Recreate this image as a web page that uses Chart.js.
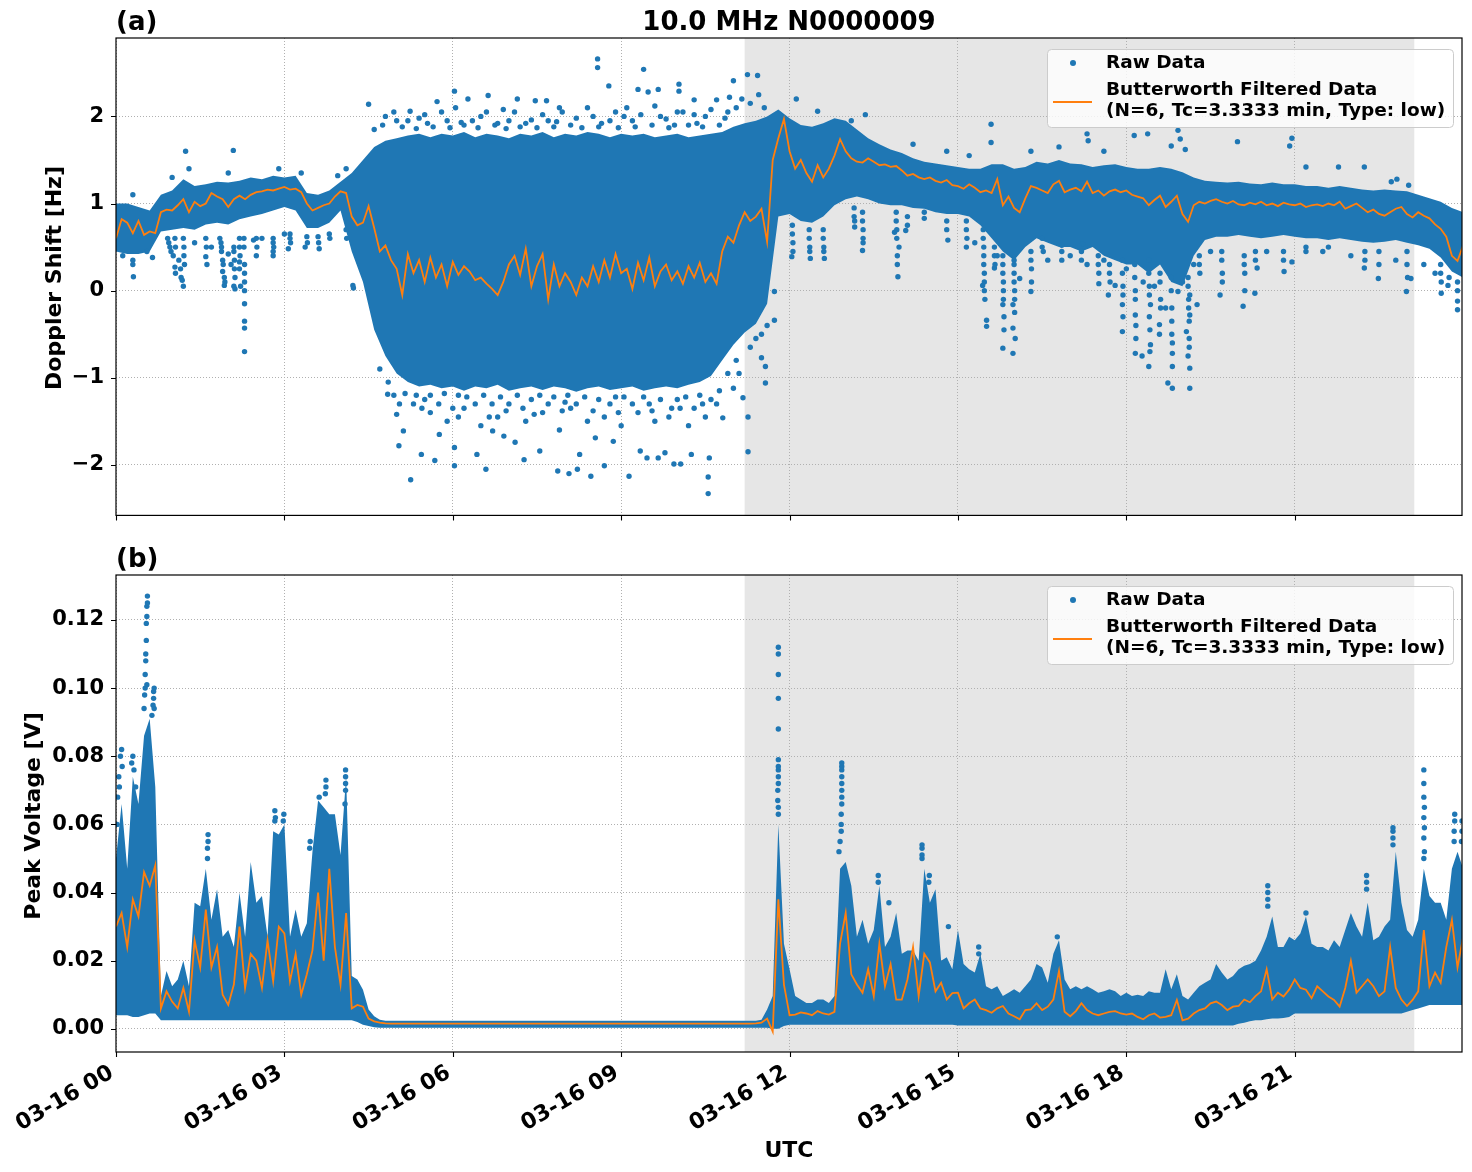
<!DOCTYPE html>
<html>
<head>
<meta charset="utf-8">
<script src="https://cdn.jsdelivr.net/npm/chart.js@4.4.0/dist/chart.umd.min.js"></script>
<style>
html,body{margin:0;padding:0;background:#fff;}
#wrap{position:relative;width:1472px;height:1172px;overflow:hidden;}
#ca{position:absolute;left:0;top:0;}
#cb{position:absolute;left:0;top:540px;}
</style>
</head>
<body>
<div id="wrap">
<canvas id="ca" width="1472" height="540"></canvas>
<canvas id="cb" width="1472" height="632"></canvas>
</div>
<script>
// ---------------- DATA ----------------
const X_TICK_HOURS = [0, 3, 6, 9, 12, 15, 18, 21];
const SHADE_HOURS = [11.2, 23.13];
const FILTER_STEP_H = 0.1;
const TOP_BAND_STEP_H = 0.2;
const BOT_BAND_STEP_H = 0.1;

// (a) Doppler shift [Hz] – Butterworth filtered, every 0.1 h from 00:00
const dopplerFiltered = [
 0.60,0.82,0.78,0.66,0.80,0.64,0.68,0.66,0.90,0.93,
 0.92,0.98,1.05,0.90,1.02,0.97,1.00,1.12,1.08,1.05,
 0.96,1.05,1.09,1.05,1.10,1.13,1.14,1.16,1.15,1.17,
 1.19,1.16,1.17,1.13,1.00,0.92,0.95,0.98,1.00,1.08,
 1.14,1.12,0.85,0.75,0.78,0.97,0.72,0.45,0.52,0.35,
 0.25,-0.05,0.42,0.20,0.35,0.10,0.38,0.15,0.30,0.05,
 0.33,0.18,0.28,0.22,0.12,0.15,0.08,0.02,-0.05,0.10,
 0.30,0.40,0.18,0.48,0.05,0.28,0.42,-0.10,0.30,0.05,
 0.20,0.10,-0.05,0.15,0.05,0.28,0.10,0.35,0.15,0.42,
 0.20,0.25,0.02,0.32,0.12,0.38,0.05,0.22,0.30,0.12,
 0.22,0.08,0.28,0.15,0.32,0.10,0.20,0.08,0.45,0.62,
 0.55,0.75,0.90,0.80,0.85,0.94,0.56,1.50,1.75,1.97,
 1.60,1.40,1.50,1.35,1.25,1.44,1.30,1.40,1.55,1.74,
 1.60,1.52,1.48,1.47,1.52,1.48,1.44,1.45,1.42,1.43,
 1.38,1.32,1.34,1.30,1.28,1.30,1.26,1.24,1.27,1.21,
 1.20,1.17,1.22,1.18,1.13,1.15,1.12,1.28,0.98,1.08,
 0.95,0.90,1.06,1.20,1.18,1.15,1.12,1.22,1.26,1.13,
 1.16,1.18,1.14,1.25,1.12,1.15,1.09,1.14,1.16,1.13,
 1.15,1.10,1.08,1.06,0.98,1.04,1.09,0.96,1.02,1.09,
 0.88,0.79,0.98,1.02,1.00,1.03,1.05,1.02,1.00,1.03,
 0.99,0.98,1.01,0.99,1.02,0.98,1.00,0.97,1.01,0.99,
 0.98,1.00,0.96,0.98,0.99,0.97,1.00,0.98,1.02,0.94,
 0.97,1.00,0.95,0.90,0.93,0.88,0.86,0.90,0.94,0.96,
 0.88,0.84,0.90,0.86,0.83,0.76,0.71,0.62,0.40,0.34,
 0.52
];

// (a) raw data: lower / upper edge of the dense cloud, every 0.2 h
const dopplerRawLow = [
 0.45,0.42,0.42,0.45,0.68,0.70,0.72,0.70,0.76,0.78,
 0.76,0.82,0.85,0.88,0.92,0.96,0.92,0.72,0.72,0.78,
 0.92,0.45,0.10,-0.45,-0.75,-0.95,-1.05,-1.10,-1.08,-1.12,
 -1.10,-1.15,-1.10,-1.12,-1.08,-1.15,-1.12,-1.10,-1.14,-1.10,
 -1.12,-1.16,-1.12,-1.10,-1.14,-1.12,-1.10,-1.15,-1.12,-1.10,
 -1.12,-1.08,-1.05,-0.98,-0.80,-0.62,-0.48,-0.38,-0.15,0.85,
 0.88,0.80,0.78,0.85,0.98,1.05,1.08,1.05,1.00,0.98,
 0.98,0.95,0.94,0.90,0.88,0.88,0.85,0.75,0.60,0.45,
 0.35,0.50,0.60,0.55,0.50,0.50,0.45,0.50,0.40,0.35,
 0.30,0.30,0.20,0.30,0.10,0.05,0.40,0.58,0.62,0.62,
 0.64,0.62,0.60,0.62,0.64,0.62,0.60,0.60,0.58,0.60,
 0.58,0.56,0.55,0.56,0.58,0.55,0.52,0.48,0.38,0.22,
 0.15
];
const dopplerRawHigh = [
 1.00,1.00,0.96,0.92,1.10,1.15,1.28,1.20,1.22,1.25,
 1.24,1.26,1.30,1.28,1.32,1.30,1.32,1.12,1.10,1.15,
 1.25,1.35,1.50,1.65,1.72,1.75,1.78,1.80,1.76,1.80,
 1.78,1.82,1.76,1.80,1.78,1.75,1.80,1.78,1.82,1.76,
 1.80,1.78,1.82,1.80,1.76,1.80,1.78,1.80,1.76,1.78,
 1.80,1.76,1.78,1.80,1.82,1.88,1.92,1.95,2.00,2.08,
 1.98,1.90,1.88,1.92,1.98,1.95,1.85,1.75,1.68,1.62,
 1.58,1.52,1.48,1.46,1.44,1.42,1.40,1.40,1.45,1.45,
 1.40,1.42,1.48,1.46,1.50,1.46,1.45,1.42,1.44,1.45,
 1.42,1.40,1.40,1.42,1.40,1.36,1.30,1.26,1.25,1.24,
 1.25,1.23,1.22,1.24,1.22,1.22,1.20,1.20,1.18,1.20,
 1.18,1.16,1.15,1.16,1.15,1.14,1.10,1.06,1.02,0.95,
 0.90
];

// (a) raw data: isolated points and streaks outside the dense cloud [hour, Hz]
const dopplerRawSparse = [
 [0.31,0.16],[1.02,0.40],[1.05,0.27],[1.06,0.20],[1.12,0.35],[1.15,0.25],[1.18,0.12],[1.20,0.05],[1.16,0.15],
 [1.24,1.60],[1.60,0.39],[1.62,0.30],[1.85,0.60],[1.88,0.45],[1.90,0.22],[1.93,0.06],[2.00,0.42],[2.05,0.30],
 [2.10,0.50],[2.10,0.05],[2.12,0.02],[2.09,1.61],[2.20,0.33],[2.20,0.25],[2.22,0.05],[2.29,-0.35],[2.29,-0.43],
 [2.29,-0.70],[2.50,0.40],[2.80,0.45],[2.80,0.40],[3.07,0.48],[3.37,0.50],[3.62,0.48],[4.22,0.06],[4.23,0.03],
 [0.55,0.45],[0.12,0.40],[0.65,0.38],[1.40,0.55],[2.60,0.60],[3.00,0.65],[2.45,0.58],[1.70,0.50],
 [0.30,0.35],[0.30,0.30],[0.92,0.60],[0.94,0.55],[0.96,0.50],[0.98,0.45],[1.05,0.60],[1.06,0.50],
 [1.20,0.60],[1.21,0.50],[1.21,0.40],[1.22,0.30],[1.60,0.60],[1.61,0.50],[1.87,0.55],[1.88,0.50],
 [1.90,0.35],[1.91,0.30],[1.93,0.15],[1.94,0.10],[2.10,0.45],[2.11,0.35],[2.11,0.25],[2.12,0.15],
 [2.20,0.60],[2.20,0.50],[2.21,0.40],[2.28,0.60],[2.28,0.50],[2.29,0.30],[2.29,0.20],[2.29,0.10],
 [2.29,0.00],[2.29,-0.15],[2.50,0.60],[2.51,0.50],[2.80,0.60],[2.80,0.55],[2.81,0.50],[3.10,0.65],
 [3.10,0.60],[3.11,0.55],[3.40,0.62],[3.41,0.55],[3.60,0.62],[3.61,0.55],[3.80,0.65],[3.81,0.60],
 [4.10,0.70],[4.11,0.60],[0.30,1.10],[1.00,1.30],[1.30,1.40],[2.00,1.35],[2.90,1.40],[3.30,1.35],
 [3.95,1.32],[4.10,1.40],
 [4.50,2.14],[4.80,2.00],[5.24,2.06],[5.72,2.17],[6.03,2.29],[6.27,2.20],[6.63,2.24],[7.15,2.20],[7.47,2.18],
 [7.67,2.18],[7.90,2.10],[8.58,2.66],[8.58,2.56],[8.78,2.35],[9.30,2.31],[9.40,2.54],[9.48,2.28],[9.66,2.31],
 [9.60,2.12],[10.03,2.37],[10.03,2.29],[10.30,2.19],[10.70,2.19],[10.93,2.22],[11.00,2.41],[11.25,2.48],[11.43,2.47],
 [5.00,1.95],[5.40,1.98],[5.90,1.95],[6.50,2.00],[7.00,1.95],[7.60,2.02],[8.20,1.98],[8.90,2.05],[9.80,1.97],
 [10.50,2.00],[6.90,2.08],[8.40,2.10],[9.05,2.00],[10.10,2.05],[5.55,1.92],[6.15,1.93],[6.75,1.90],[7.30,1.92],
 [7.85,1.94],[8.65,1.92],[9.20,1.95],[9.95,1.90],[10.35,1.92],[10.85,1.98],
 [4.60,1.85],[4.75,1.90],[4.95,2.05],[5.10,1.88],[5.20,1.95],[5.35,1.86],[5.50,2.02],[5.65,1.88],[5.80,2.05],
 [5.95,1.87],[6.05,2.10],[6.20,1.90],[6.35,1.95],[6.45,1.87],[6.60,2.05],[6.80,1.92],[6.95,1.86],[7.10,2.05],
 [7.20,1.88],[7.40,1.96],[7.50,1.87],[7.70,1.95],[7.80,1.88],[7.95,2.05],[8.10,1.90],[8.30,1.87],[8.50,2.00],
 [8.60,1.88],[8.80,1.95],[8.95,1.87],[9.10,2.10],[9.25,1.88],[9.35,2.02],[9.55,1.90],[9.70,2.00],[9.85,1.87],
 [10.00,2.05],[10.20,1.90],[10.30,2.02],[10.45,1.88],[10.60,2.08],[10.75,1.90],[10.90,2.05],[11.05,2.10],
 [11.15,2.20],[11.30,2.15],[11.45,2.25],[11.55,2.10],
 [4.84,-1.19],[5.00,-1.42],[5.04,-1.78],[5.12,-1.61],[5.25,-2.17],[5.44,-1.88],[5.68,-1.95],[5.76,-1.65],
 [6.03,-2.01],[6.03,-1.80],[6.43,-1.88],[6.59,-2.05],[6.71,-1.61],[6.91,-1.67],[7.11,-1.74],[7.27,-1.94],
 [7.55,-1.84],[7.87,-2.07],[8.07,-2.10],[8.22,-2.05],[8.26,-1.88],[8.46,-2.13],[8.70,-2.01],[8.54,-1.69],
 [8.86,-1.73],[9.14,-2.13],[9.34,-1.84],[9.46,-1.92],[9.66,-1.92],[9.78,-1.86],[9.94,-1.99],[10.06,-1.99],
 [10.25,-1.88],[10.55,-2.14],[10.55,-2.33],[10.57,-1.92],[10.81,-1.46],[11.00,-1.12],[11.17,-1.23],[11.26,-1.45],
 [11.26,-1.85],[11.57,-0.87],[11.57,-1.06],[11.50,-0.77],[11.73,-0.01],[11.73,-0.34],
 [5.30,-1.30],[5.60,-1.40],[5.90,-1.50],[6.20,-1.35],[6.50,-1.55],[6.80,-1.45],[7.00,-1.30],[7.30,-1.50],
 [7.60,-1.40],[7.90,-1.60],[8.10,-1.35],[8.40,-1.50],[8.70,-1.45],[9.00,-1.55],[9.30,-1.40],[9.60,-1.50],
 [9.90,-1.35],[10.20,-1.55],[10.50,-1.45],[10.70,-1.30],[5.50,-1.25],[6.10,-1.20],[6.70,-1.30],[7.40,-1.25],
 [8.00,-1.28],[8.90,-1.22],[9.50,-1.30],[10.00,-1.25],[10.40,-1.20],
 [4.70,-0.90],[4.85,-1.05],[4.95,-1.20],[5.05,-1.30],[5.15,-1.18],[5.35,-1.20],[5.45,-1.35],[5.60,-1.20],
 [5.75,-1.30],[5.85,-1.18],[6.00,-1.35],[6.10,-1.45],[6.25,-1.22],[6.40,-1.30],[6.55,-1.20],[6.65,-1.45],
 [6.85,-1.22],[6.95,-1.38],[7.15,-1.20],[7.25,-1.35],[7.45,-1.42],[7.55,-1.20],[7.70,-1.30],[7.80,-1.22],
 [7.95,-1.38],[8.05,-1.20],[8.20,-1.30],[8.35,-1.22],[8.50,-1.38],[8.60,-1.25],[8.80,-1.30],[8.95,-1.40],
 [9.05,-1.22],[9.20,-1.30],[9.40,-1.22],[9.55,-1.38],[9.70,-1.25],[9.85,-1.45],[10.05,-1.35],[10.15,-1.22],
 [10.30,-1.35],[10.45,-1.30],[10.60,-1.25],[10.75,-1.15],[10.90,-0.95],[11.05,-0.80],[11.10,-0.95],
 [11.30,-0.65],[11.40,-0.55],[11.50,-0.50],[11.60,-0.40],
 [12.04,0.39],[12.37,0.37],[12.62,0.37],[13.16,0.73],[13.30,0.46],[13.87,0.67],[13.93,0.16],[13.95,0.50],
 [14.07,0.69],[14.40,0.83],[14.82,0.58],[15.15,0.50],[15.44,0.06],[15.51,-0.34],[15.51,-0.41],[15.65,0.26],
 [15.80,-0.66],[15.80,-0.16],[15.98,-0.72],[15.98,-0.43],[15.98,-0.16],[16.10,0.14],[16.30,-0.01],[16.52,0.45],
 [16.85,0.52],[17.22,0.54],[17.51,0.08],[17.68,-0.05],[17.80,0.06],[17.93,-0.47],[17.93,-0.16],[18.16,-0.28],
 [18.16,-0.72],[18.28,-0.75],[18.40,-0.87],[18.43,-0.62],[18.43,-0.16],[18.59,-0.39],[18.59,-0.50],[18.74,-1.06],
 [18.82,-1.12],[18.82,-0.87],[18.82,-0.72],[18.92,-0.01],[19.07,-0.47],[19.10,-0.75],[19.13,-0.89],[19.13,-1.12],
 [19.13,-0.28],[19.13,-0.05],[19.26,-0.16],[19.67,-0.05],[20.08,-0.18],[20.29,-0.03],[20.33,0.26],[20.81,0.22],
 [20.95,0.33],[22.24,0.26],[22.49,0.14],[22.99,-0.01],[23.07,0.14],[23.61,-0.03],[23.73,0.06],[23.90,-0.22],
 [23.90,-0.12],
 [15.30,0.55],[15.70,0.40],[16.00,0.30],[16.60,0.35],[17.00,0.40],[17.30,0.30],[17.60,0.35],[18.00,0.25],
 [18.30,0.10],[18.50,0.05],[18.70,-0.20],[19.00,0.10],[19.20,0.30],[19.50,0.45],[20.50,0.45],[21.50,0.45],
 [22.00,0.40],[22.80,0.35],[23.30,0.30],[23.50,0.20],
 [12.05,0.75],[12.05,0.65],[12.06,0.55],[12.06,0.45],[12.35,0.70],[12.35,0.60],[12.36,0.50],[12.36,0.45],
 [12.60,0.70],[12.60,0.60],[12.61,0.50],[12.61,0.45],[13.15,0.95],[13.15,0.85],[13.16,0.80],[13.30,0.90],
 [13.30,0.80],[13.31,0.70],[13.31,0.60],[13.31,0.55],[13.90,0.90],[13.90,0.80],[13.91,0.70],[13.91,0.60],
 [13.92,0.40],[13.92,0.30],[14.10,0.85],[14.10,0.75],[14.40,0.90],[14.80,0.80],[14.80,0.70],[15.15,0.80],
 [15.15,0.70],[15.16,0.60],[15.45,0.70],[15.45,0.60],[15.46,0.50],[15.46,0.40],[15.46,0.30],[15.47,0.20],
 [15.47,0.10],[15.47,0.00],[15.48,-0.10],[15.65,0.50],[15.65,0.40],[15.66,0.30],[15.80,0.40],[15.80,0.30],
 [15.80,0.20],[15.81,0.10],[15.81,0.00],[15.81,-0.10],[15.82,-0.30],[15.82,-0.45],[16.00,0.35],[16.00,0.20],
 [16.00,0.10],[16.01,0.00],[16.01,-0.10],[16.01,-0.25],[16.02,-0.55],[16.30,0.45],[16.30,0.35],[16.31,0.25],
 [16.31,0.10],[16.50,0.60],[16.50,0.50],[16.85,0.45],[16.85,0.35],[17.20,0.45],[17.20,0.35],[17.50,0.40],
 [17.50,0.30],[17.51,0.20],[17.70,0.30],[17.70,0.20],[17.71,0.10],[17.93,0.35],[17.93,0.20],[17.94,0.05],
 [17.94,-0.05],[17.94,-0.30],[18.15,0.30],[18.15,0.15],[18.16,0.00],[18.16,-0.10],[18.17,-0.40],[18.17,-0.55],
 [18.40,0.35],[18.40,0.20],[18.41,0.05],[18.41,-0.05],[18.41,-0.30],[18.42,-0.45],[18.42,-0.70],[18.60,0.20],
 [18.60,0.10],[18.61,-0.10],[18.61,-0.20],[18.80,0.15],[18.80,0.00],[18.81,-0.20],[18.81,-0.35],[18.81,-0.50],
 [18.82,-0.60],[19.10,0.15],[19.10,0.05],[19.11,-0.10],[19.11,-0.20],[19.12,-0.35],[19.12,-0.55],[19.12,-0.65],
 [19.30,0.40],[19.30,0.30],[19.31,0.20],[19.70,0.45],[19.70,0.35],[19.71,0.20],[19.71,0.10],[20.10,0.40],
 [20.10,0.30],[20.11,0.20],[20.11,0.00],[20.30,0.45],[20.30,0.35],[20.80,0.45],[20.80,0.35],[21.20,0.50],
 [21.20,0.45],[21.60,0.50],[22.25,0.45],[22.25,0.35],[22.50,0.45],[22.50,0.30],[23.00,0.45],[23.00,0.30],
 [23.01,0.15],[23.60,0.30],[23.60,0.20],[23.61,0.10],[23.75,0.15],[23.90,0.10],[23.90,0.00],
 [12.12,2.20],[12.50,2.06],[13.35,2.02],[13.10,1.95],[15.59,1.91],[15.59,1.70],[17.30,1.80],[17.32,1.72],
 [18.14,1.78],[18.38,1.80],[18.92,1.84],[18.96,1.74],[18.80,1.66],[19.05,1.62],[19.98,1.71],[20.91,1.66],
 [20.95,1.75],[21.20,1.42],[21.78,1.42],[22.24,1.42],[22.72,1.25],[22.82,1.28],[23.03,1.21],[16.30,1.60],
 [16.80,1.65],[17.60,1.60],[14.20,1.68],[14.80,1.60],[15.20,1.55]
];

// (b) Peak voltage [V] – Butterworth filtered, every 0.1 h from 00:00
const voltageFiltered = [
 0.030,0.034,0.024,0.038,0.033,0.046,0.042,0.048,0.006,0.011,
 0.008,0.006,0.012,0.005,0.026,0.018,0.035,0.018,0.024,0.010,
 0.007,0.013,0.030,0.012,0.022,0.020,0.012,0.026,0.014,0.030,
 0.028,0.014,0.022,0.010,0.016,0.023,0.040,0.020,0.047,0.024,
 0.013,0.034,0.006,0.007,0.0065,0.003,0.0022,0.0018,0.0016,0.0015,
 0.0015,0.0015,0.0015,0.0015,0.0015,0.0015,0.0015,0.0015,0.0015,0.0015,
 0.0015,0.0015,0.0015,0.0015,0.0015,0.0015,0.0015,0.0015,0.0015,0.0015,
 0.0015,0.0015,0.0015,0.0015,0.0015,0.0015,0.0015,0.0015,0.0015,0.0015,
 0.0015,0.0015,0.0015,0.0015,0.0015,0.0015,0.0015,0.0015,0.0015,0.0015,
 0.0015,0.0015,0.0015,0.0015,0.0015,0.0015,0.0015,0.0015,0.0015,0.0015,
 0.0015,0.0015,0.0015,0.0015,0.0015,0.0015,0.0015,0.0015,0.0015,0.0015,
 0.0015,0.0015,0.0015,0.0015,0.0016,0.0018,0.003,-0.0008,0.038,0.013,
 0.004,0.0042,0.0048,0.0045,0.004,0.0052,0.0045,0.0042,0.005,0.025,
 0.034,0.016,0.013,0.0106,0.0175,0.0096,0.025,0.0125,0.019,0.0086,
 0.0086,0.0145,0.024,0.0096,0.022,0.0195,0.011,0.0135,0.0086,0.0105,
 0.0106,0.006,0.0075,0.0086,0.006,0.0055,0.0047,0.006,0.0067,0.0045,
 0.0037,0.0028,0.0055,0.0057,0.0075,0.0055,0.0065,0.0086,0.017,0.005,
 0.0037,0.0052,0.0075,0.0055,0.0045,0.004,0.0045,0.005,0.0052,0.0045,
 0.0042,0.0045,0.0035,0.0028,0.004,0.0045,0.0033,0.0035,0.004,0.0085,
 0.0025,0.003,0.0045,0.0055,0.006,0.0075,0.008,0.007,0.0055,0.0065,
 0.0067,0.0086,0.0078,0.0096,0.011,0.0175,0.0086,0.0106,0.0095,0.0115,
 0.0145,0.012,0.0115,0.009,0.0125,0.011,0.0095,0.0085,0.0065,0.012,
 0.020,0.0106,0.0125,0.0145,0.0125,0.0096,0.011,0.024,0.012,0.0086,
 0.0067,0.0085,0.011,0.029,0.0125,0.0165,0.0135,0.024,0.032,0.018,
 0.027
];

// (b) raw data: lower / upper edge of the dense cloud, every 0.1 h
const voltageRawLow = [
 0.004,0.004,0.004,0.0035,0.0035,0.004,0.0045,0.0045,0.0025,0.0025,
 0.0025,0.0025,0.0025,0.0025,0.0025,0.0025,0.0025,0.0025,0.0025,0.0025,
 0.0025,0.0025,0.0025,0.0025,0.0025,0.0025,0.0025,0.0025,0.0025,0.0025,
 0.0025,0.0025,0.0025,0.0025,0.0025,0.0025,0.0025,0.0025,0.0025,0.0025,
 0.0025,0.0025,0.0025,0.002,0.0012,0.0008,0.0005,0.0003,0.0003,0.0003,
 0.0003,0.0003,0.0003,0.0003,0.0003,0.0003,0.0003,0.0003,0.0003,0.0003,
 0.0003,0.0003,0.0003,0.0003,0.0003,0.0003,0.0003,0.0003,0.0003,0.0003,
 0.0003,0.0003,0.0003,0.0003,0.0003,0.0003,0.0003,0.0003,0.0003,0.0003,
 0.0003,0.0003,0.0003,0.0003,0.0003,0.0003,0.0003,0.0003,0.0003,0.0003,
 0.0003,0.0003,0.0003,0.0003,0.0003,0.0003,0.0003,0.0003,0.0003,0.0003,
 0.0003,0.0003,0.0003,0.0003,0.0003,0.0003,0.0003,0.0003,0.0003,0.0003,
 0.0003,0.0003,0.0003,0.0003,0.0003,0.0003,0.0003,0.0,0.0,0.0008,
 0.0012,0.0012,0.0012,0.0012,0.0012,0.0012,0.0012,0.0012,0.0012,0.0012,
 0.0012,0.0012,0.0012,0.0012,0.0012,0.0012,0.0012,0.0012,0.0012,0.0012,
 0.0012,0.0012,0.0012,0.0012,0.0012,0.0012,0.0012,0.0012,0.0012,0.0012,
 0.001,0.001,0.001,0.001,0.001,0.001,0.001,0.001,0.001,0.001,
 0.001,0.001,0.001,0.001,0.001,0.001,0.001,0.001,0.001,0.001,
 0.001,0.001,0.001,0.001,0.001,0.001,0.001,0.001,0.001,0.001,
 0.001,0.001,0.001,0.001,0.001,0.001,0.001,0.001,0.001,0.001,
 0.001,0.001,0.001,0.001,0.001,0.001,0.001,0.001,0.001,0.001,
 0.0015,0.0018,0.0022,0.0025,0.0025,0.0028,0.003,0.003,0.0032,0.0035,
 0.0045,0.0045,0.0045,0.0045,0.0045,0.0045,0.0045,0.0045,0.0045,0.0045,
 0.0045,0.0045,0.0045,0.0045,0.0045,0.0045,0.0045,0.0045,0.0045,0.0045,
 0.005,0.0055,0.006,0.0065,0.007,0.007,0.007,0.007,0.007,0.007,
 0.007
];
const voltageRawHigh = [
 0.050,0.066,0.047,0.074,0.066,0.086,0.091,0.071,0.0096,0.017,
 0.0125,0.0145,0.020,0.0125,0.037,0.036,0.047,0.032,0.041,0.027,
 0.029,0.024,0.040,0.027,0.049,0.037,0.039,0.027,0.058,0.057,
 0.060,0.027,0.035,0.027,0.031,0.052,0.067,0.065,0.063,0.063,
 0.051,0.074,0.0155,0.0145,0.0115,0.0057,0.0037,0.0027,0.0024,0.0024,
 0.0024,0.0024,0.0024,0.0024,0.0024,0.0024,0.0024,0.0024,0.0024,0.0024,
 0.0024,0.0024,0.0024,0.0024,0.0024,0.0024,0.0024,0.0024,0.0024,0.0024,
 0.0024,0.0024,0.0024,0.0024,0.0024,0.0024,0.0024,0.0024,0.0024,0.0024,
 0.0024,0.0024,0.0024,0.0024,0.0024,0.0024,0.0024,0.0024,0.0024,0.0024,
 0.0024,0.0024,0.0024,0.0024,0.0024,0.0024,0.0024,0.0024,0.0024,0.0024,
 0.0024,0.0024,0.0024,0.0024,0.0024,0.0024,0.0024,0.0024,0.0024,0.0024,
 0.0024,0.0024,0.0024,0.0024,0.0024,0.0027,0.0057,0.0096,0.060,0.025,
 0.0175,0.0096,0.0086,0.0076,0.0076,0.0086,0.0086,0.0076,0.0096,0.047,
 0.049,0.042,0.027,0.032,0.025,0.029,0.042,0.024,0.027,0.034,
 0.022,0.023,0.023,0.020,0.047,0.037,0.041,0.020,0.021,0.0175,
 0.029,0.019,0.0175,0.0165,0.022,0.0125,0.0116,0.0125,0.0096,0.0106,
 0.0116,0.0106,0.0125,0.0145,0.019,0.018,0.0135,0.022,0.026,0.0145,
 0.0116,0.0125,0.0116,0.0125,0.0116,0.0106,0.011,0.0116,0.011,0.0096,
 0.0106,0.0096,0.010,0.0096,0.011,0.0106,0.0106,0.0175,0.0116,0.016,
 0.0096,0.0086,0.0106,0.0125,0.0135,0.0145,0.019,0.0165,0.0145,0.0155,
 0.0175,0.0185,0.019,0.020,0.023,0.027,0.033,0.024,0.024,0.027,
 0.026,0.028,0.033,0.025,0.024,0.024,0.023,0.026,0.024,0.029,
 0.034,0.030,0.027,0.037,0.026,0.027,0.030,0.032,0.052,0.037,
 0.029,0.027,0.032,0.047,0.039,0.037,0.037,0.032,0.047,0.052,
 0.047
];

// (b) raw data: isolated points above the dense cloud [hour, V]
const voltageRawSparse = [
 [0.02,0.060],[0.03,0.068],[0.05,0.074],[0.08,0.080],[0.10,0.082],[0.11,0.077],[0.06,0.071],
 [0.28,0.078],[0.30,0.080],[0.32,0.076],[0.35,0.071],
 [0.50,0.094],[0.51,0.098],[0.52,0.100],[0.52,0.104],[0.53,0.108],[0.53,0.110],[0.54,0.114],[0.54,0.119],
 [0.55,0.121],[0.55,0.124],[0.56,0.127],[0.56,0.125],[0.55,0.101],
 [0.64,0.092],[0.66,0.095],[0.67,0.097],[0.67,0.099],[0.68,0.100],[0.68,0.094],
 [1.63,0.050],[1.63,0.053],[1.64,0.055],[1.64,0.057],
 [2.83,0.061],[2.83,0.064],[2.84,0.062],[2.98,0.061],[2.99,0.063],
 [3.45,0.053],[3.46,0.055],[3.62,0.068],[3.73,0.069],[3.74,0.071],[3.74,0.073],
 [4.08,0.066],[4.09,0.070],[4.09,0.072],[4.09,0.074],[4.09,0.076],
 [11.80,0.063],[11.80,0.065],[11.79,0.067],[11.79,0.070],[11.80,0.072],[11.80,0.074],[11.80,0.076],
 [11.80,0.077],[11.80,0.079],[11.80,0.088],[11.80,0.097],[11.80,0.104],[11.80,0.110],[11.80,0.112],
 [12.88,0.052],[12.90,0.055],[12.92,0.058],[12.92,0.060],[12.92,0.063],[12.93,0.066],[12.93,0.068],
 [12.93,0.070],[12.93,0.072],[12.93,0.074],[12.93,0.076],[12.93,0.077],[12.93,0.078],
 [13.58,0.043],[13.58,0.045],[13.77,0.037],
 [14.36,0.050],[14.36,0.051],[14.36,0.053],[14.36,0.054],[14.48,0.043],[14.49,0.045],
 [14.83,0.030],[15.37,0.022],[15.37,0.024],[16.77,0.027],
 [20.52,0.036],[20.52,0.038],[20.52,0.040],[20.52,0.042],[21.20,0.034],
 [22.28,0.041],[22.28,0.043],[22.28,0.045],
 [22.75,0.054],[22.75,0.056],[22.75,0.058],[22.75,0.059],
 [23.30,0.050],[23.31,0.052],[23.30,0.056],[23.31,0.059],[23.30,0.062],[23.31,0.065],[23.30,0.068],
 [23.30,0.072],[23.30,0.076],
 [23.84,0.055],[23.84,0.058],[23.85,0.061],[23.85,0.063],
 [23.97,0.055],[23.98,0.058],[23.98,0.061]
];

// ---------------- STYLE / RENDERING ----------------
const BLUE = '#1f77b4';
const ORANGE = '#ff7f0e';
const GRID = '#b0b0b0';
const FAMILY = '"DejaVu Sans", "Liberation Sans", sans-serif';
const LEGEND_LINES = ['Raw Data', 'Butterworth Filtered Data', '(N=6, Tc=3.3333 min, Type: low)'];

function sampled(values, stepH) {
  return values.map((v, i) => ({ x: Math.round(i * stepH * 100) / 100, y: v }));
}
function pairs(list) { return list.map(p => ({ x: p[0], y: p[1] })); }

function roundRectPath(ctx, x, y, w, h, r) {
  ctx.beginPath();
  ctx.moveTo(x + r, y);
  ctx.lineTo(x + w - r, y); ctx.arcTo(x + w, y, x + w, y + r, r);
  ctx.lineTo(x + w, y + h - r); ctx.arcTo(x + w, y + h, x + w - r, y + h, r);
  ctx.lineTo(x + r, y + h); ctx.arcTo(x, y + h, x, y + h - r, r);
  ctx.lineTo(x, y + r); ctx.arcTo(x, y, x + r, y, r);
  ctx.closePath();
}

const decor = {
  id: 'decor',
  beforeDraw(chart, _args, o) {
    const { ctx, chartArea: a } = chart;
    const xs = chart.scales.x;
    ctx.save();
    ctx.fillStyle = '#ffffff';
    ctx.fillRect(0, 0, chart.width, chart.height);
    const s0 = xs.getPixelForValue(o.shade[0]);
    const s1 = Math.min(a.right, xs.getPixelForValue(o.shade[1]));
    ctx.fillStyle = '#e6e6e6';
    ctx.fillRect(s0, a.top, s1 - s0, a.bottom - a.top);
    ctx.restore();
  },
  afterDraw(chart, _args, o) {
    const { ctx, chartArea: a } = chart;
    const xs = chart.scales.x, ys = chart.scales.y;
    ctx.save();
    ctx.strokeStyle = '#000';
    ctx.lineWidth = 1.1;
    ctx.setLineDash([]);
    ctx.beginPath();
    xs.ticks.forEach(t => {
      const px = Math.round(xs.getPixelForValue(t.value)) + 0.5;
      ctx.moveTo(px, a.bottom); ctx.lineTo(px, a.bottom + 5);
    });
    ys.ticks.forEach(t => {
      const py = Math.round(ys.getPixelForValue(t.value)) + 0.5;
      ctx.moveTo(a.left - 5, py); ctx.lineTo(a.left, py);
    });
    ctx.stroke();
    ctx.lineWidth = 1.2;
    ctx.strokeRect(a.left, a.top, a.right - a.left, a.bottom - a.top);

    // legend
    const lx = 1047.5, ly = a.top + 11.5, lw = 406, lh = 78;
    roundRectPath(ctx, lx, ly, lw, lh, 4);
    ctx.fillStyle = 'rgba(255,255,255,0.8)';
    ctx.fill();
    ctx.strokeStyle = '#cccccc';
    ctx.lineWidth = 1;
    ctx.stroke();
    ctx.fillStyle = BLUE;
    ctx.beginPath(); ctx.arc(1073, a.top + 25, 3, 0, Math.PI * 2); ctx.fill();
    ctx.strokeStyle = ORANGE; ctx.lineWidth = 2;
    ctx.beginPath(); ctx.moveTo(1053, a.top + 64); ctx.lineTo(1092, a.top + 64); ctx.stroke();
    ctx.fillStyle = '#000';
    ctx.font = 'bold 18.5px ' + FAMILY;
    ctx.textAlign = 'left'; ctx.textBaseline = 'middle';
    ctx.fillText(LEGEND_LINES[0], 1106, a.top + 25);
    ctx.fillText(LEGEND_LINES[1], 1106, a.top + 52);
    ctx.fillText(LEGEND_LINES[2], 1106, a.top + 73);

    // titles
    ctx.textBaseline = 'alphabetic';
    ctx.font = 'bold 26px ' + FAMILY;
    ctx.textAlign = 'left';
    ctx.fillText(o.panel, a.left, o.titleBaseline);
    if (o.title) {
      ctx.textAlign = 'center';
      ctx.fillText(o.title, (a.left + a.right) / 2, o.titleBaseline);
    }
    ctx.font = 'bold 22px ' + FAMILY;
    ctx.save();
    ctx.translate(o.yTitleX, o.yTitleY);
    ctx.rotate(-Math.PI / 2);
    ctx.textAlign = 'center';
    ctx.fillText(o.yTitle, 0, 0);
    ctx.restore();
    if (o.xTitle) {
      ctx.textAlign = 'center';
      ctx.fillText(o.xTitle, (a.left + a.right) / 2, o.xTitleBaseline);
    }
    ctx.restore();
  }
};

function makeChart(canvasId, cfg) {
  const yTickFont = { family: FAMILY, size: 21, weight: 'bold' };
  const xTickFont = { family: FAMILY, size: 22, weight: 'bold' };
  return new Chart(document.getElementById(canvasId), {
    type: 'line',
    data: {
      datasets: [
        { label: 'rawLow', data: sampled(cfg.low, cfg.bandStep), borderWidth: 0, borderColor: BLUE,
          pointRadius: 0, fill: false, order: 3, clip: 0 },
        { label: 'rawHigh', data: sampled(cfg.high, cfg.bandStep), borderWidth: 0, borderColor: BLUE,
          backgroundColor: BLUE, pointRadius: 0, fill: '-1', order: 2, clip: 0 },
        { label: 'Raw Data', data: pairs(cfg.sparse), showLine: false, pointRadius: 2.7,
          pointBackgroundColor: BLUE, pointBorderWidth: 0, order: 1, clip: 0 },
        { label: 'Butterworth Filtered Data', data: sampled(cfg.filtered, FILTER_STEP_H),
          borderColor: ORANGE, borderWidth: 1.8, pointRadius: 0, fill: false, tension: 0, order: 0, clip: 0 }
      ]
    },
    options: {
      responsive: false, animation: false, devicePixelRatio: 1, events: [],
      layout: { padding: { left: 0, right: 10, top: cfg.padTop, bottom: 0 } },
      plugins: {
        legend: { display: false }, tooltip: { enabled: false },
        decor: {
          shade: SHADE_HOURS, panel: cfg.panel, title: cfg.title, titleBaseline: cfg.titleBaseline,
          yTitle: cfg.yTitle, yTitleX: cfg.yTitleX, yTitleY: cfg.yTitleY,
          xTitle: cfg.xTitle, xTitleBaseline: cfg.xTitleBaseline
        }
      },
      scales: {
        x: {
          type: 'linear', min: 0, max: 23.98,
          afterBuildTicks: s => { s.ticks = X_TICK_HOURS.map(v => ({ value: v })); },
          afterFit: s => { s.height = cfg.xAxisHeight; },
          grid: { color: GRID, lineWidth: 1, drawTicks: false, borderDash: [1, 2] },
          border: { display: false, dash: [1, 2] },
          ticks: {
            display: cfg.showXLabels, autoSkip: false, minRotation: 30, maxRotation: 30, padding: 8,
            labelOffset: -4, color: '#000', font: xTickFont,
            callback: v => '03-16 ' + String(v).padStart(2, '0')
          }
        },
        y: {
          type: 'linear', min: cfg.yMin, max: cfg.yMax,
          afterBuildTicks: s => { s.ticks = cfg.yTicks.map(v => ({ value: v })); },
          afterFit: s => { s.width = 116; },
          grid: { color: GRID, lineWidth: 1, drawTicks: false, borderDash: [1, 2] },
          border: { display: false, dash: [1, 2] },
          ticks: { padding: 12, color: '#000', font: yTickFont, callback: cfg.yFormat }
        }
      }
    },
    plugins: [decor]
  });
}

makeChart('ca', {
  low: dopplerRawLow, high: dopplerRawHigh, bandStep: TOP_BAND_STEP_H,
  sparse: dopplerRawSparse, filtered: dopplerFiltered,
  padTop: 38, xAxisHeight: 22, showXLabels: false,
  yMin: -2.58, yMax: 2.9, yTicks: [-2, -1, 0, 1, 2],
  yFormat: v => (v < 0 ? '\u2212' + Math.abs(v) : String(v)),
  panel: '(a)', title: '10.0 MHz N0000009', titleBaseline: 30,
  yTitle: 'Doppler Shift [Hz]', yTitleX: 61, yTitleY: 278,
  xTitle: null
});

makeChart('cb', {
  low: voltageRawLow, high: voltageRawHigh, bandStep: BOT_BAND_STEP_H,
  sparse: voltageRawSparse, filtered: voltageFiltered,
  padTop: 35, xAxisHeight: 120, showXLabels: true,
  yMin: -0.0068, yMax: 0.1332, yTicks: [0, 0.02, 0.04, 0.06, 0.08, 0.10, 0.12],
  yFormat: v => v.toFixed(2),
  panel: '(b)', title: null, titleBaseline: 27,
  yTitle: 'Peak Voltage [V]', yTitleX: 40, yTitleY: 276,
  xTitle: 'UTC', xTitleBaseline: 617
});
</script>
</body>
</html>
